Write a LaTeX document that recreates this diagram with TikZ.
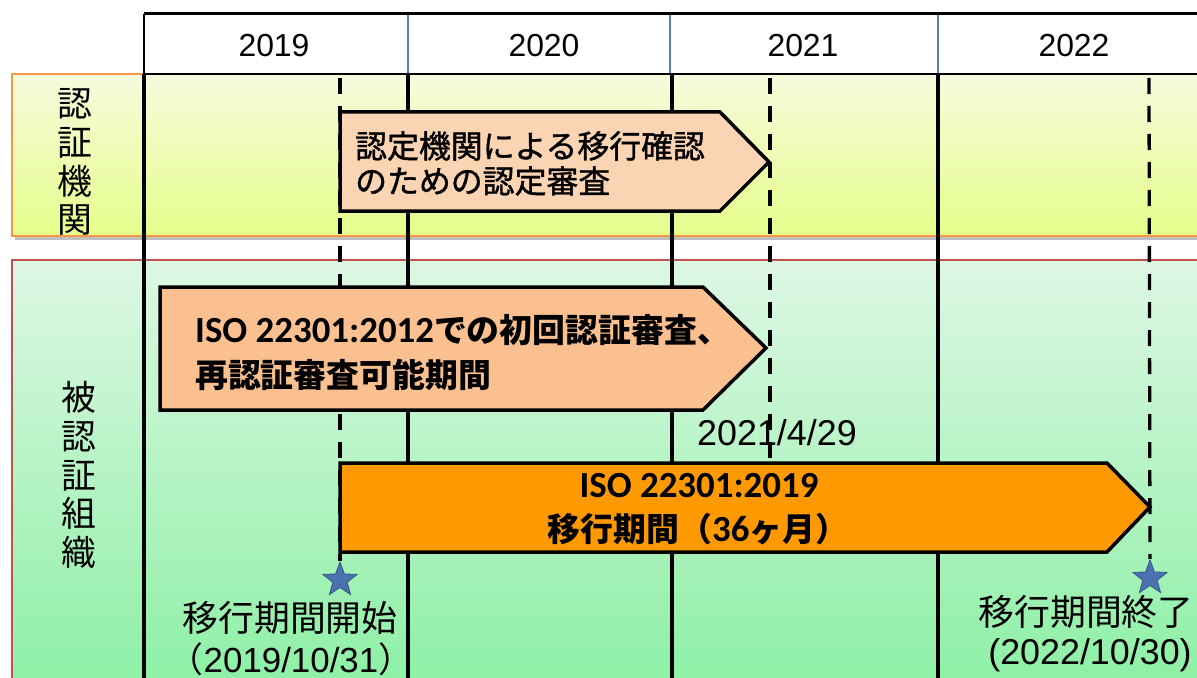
\documentclass[tikz,border=0pt]{standalone}
\usepackage{fontspec}
\setmainfont{Liberation Sans}
\newfontfamily\cjk{Noto Sans CJK JP}
\newfontfamily\cjkm[FakeBold=1.2]{Noto Sans CJK JP}
\newfontfamily\calib{Carlito}
\usetikzlibrary{shapes.geometric}
\definecolor{ytop}{HTML}{F5FBDD}
\definecolor{ybot}{HTML}{E6FD8A}
\definecolor{gtop}{HTML}{DEF7E4}
\definecolor{gbot}{HTML}{8EF0A6}
\definecolor{yborder}{HTML}{F79646}
\definecolor{gborder}{HTML}{C0504D}
\definecolor{hblue}{HTML}{4F81BD}
\definecolor{peachA}{HTML}{FBD4B4}
\definecolor{peachB}{HTML}{FAC090}
\definecolor{orangeC}{HTML}{FF9900}
\definecolor{starblue}{HTML}{4A72B0}
\begin{document}
\begin{tikzpicture}[x=1bp,y=-1bp,
  vline/.style={line width=3.5bp, black},
  guide/.style={line width=3.3bp, black, dash pattern=on 16bp off 12bp},
  boxshape/.style={draw=black, line width=3.5bp, line join=miter},
  txt/.style={inner sep=0, anchor=base west},
  ctxt/.style={inner sep=0, anchor=base},
  yearfont/.style={font=\fontsize{32}{36}\selectfont},
  boxA/.style={font=\cjkm\fontsize{32}{36}\selectfont},
  boxB/.style={font=\cjk\bfseries\fontsize{33}{38}\selectfont},
  lbl/.style={font=\cjk\fontsize{36}{40}\selectfont},
  datefont/.style={font=\fontsize{35}{40}\selectfont},
  vlabel/.style={inner sep=0, align=center, font=\cjk\fontsize{35}{39}\selectfont},
  marker/.style={star, star points=5, star point ratio=2.4, fill=starblue, draw=starblue!75!black, line width=0.8bp, minimum size=36bp, inner sep=0}
]
\useasboundingbox (0,0) rectangle (1197,678);
\fill[white] (0,0) rectangle (1197,678);

% bands
\fill[black!25] (15,78) rectangle (1200,240);
\shade[top color=ytop, bottom color=ybot] (12,74) rectangle (1200,236);
\draw[yborder, line width=1.5bp] (1200,74) -- (12,74) -- (12,236) -- (1200,236);
\shade[top color=gtop, bottom color=gbot] (12,260) rectangle (1200,680);
\draw[gborder, line width=1.5bp] (1200,260) -- (12,260) -- (12,680);

% header
\fill[white] (144,14) rectangle (1200,74);
\draw[hblue, line width=1.2bp] (408,14) -- (408,74) (670,14) -- (670,74) (938,14) -- (938,74);
\draw[black, line width=3bp] (144,14) -- (1200,14);
\draw[black, line width=2bp] (144,74) -- (1200,74);
\draw[black, line width=2bp] (144,14) -- (144,74);

\node[ctxt, yearfont] (y2019) at (274,57) {2019};
\node[ctxt, yearfont] (y2020) at (544,57) {2020};
\node[ctxt, yearfont] (y2021) at (803,57) {2021};
\node[ctxt, yearfont] (y2022) at (1074,57) {2022};

% vertical year lines
\coordinate (v1t) at (144,74); \coordinate (v1b) at (144,680);
\coordinate (v2t) at (408,74); \coordinate (v2b) at (408,680);
\coordinate (v3t) at (672,74); \coordinate (v3b) at (672,680);
\coordinate (v4t) at (938,74); \coordinate (v4b) at (938,680);
\draw[vline] (v1t) -- (v1b);
\draw[vline] (v2t) -- (v2b);
\draw[vline] (v3t) -- (v3b);
\draw[vline] (v4t) -- (v4b);

% markers
\node[marker] (s1) at (340,580) {};
\node[marker] (s2) at (1150,578) {};

% dashed guide lines
\coordinate (d1t) at (340,78);
\coordinate (d2t) at (770,78); \coordinate (d2b) at (770,458);
\coordinate (d3t) at (1149,78);
\draw[guide] (d1t) -- (s1.north);
\draw[guide] (d2t) -- (d2b);
\draw[guide] (d3t) -- (s2.north);

% boxes
\filldraw[boxshape, fill=peachA] (340,112) -- (720,112) -- (769,162) -- (720,211) -- (340,211) -- cycle;
\filldraw[boxshape, fill=peachB] (160,287) -- (703,287) -- (766,348) -- (703,410) -- (160,410) -- cycle;
\filldraw[boxshape, fill=orangeC] (340,463) -- (1107,463) -- (1150,507) -- (1107,552) -- (340,552) -- cycle;

% box texts
\node[txt, boxA] (a1) at (355,158) {認定機関による移行確認};
\node[txt, boxA] (a2) at (355,193) {のための認定審査};
\node[txt, boxB] (b1) at (195,342) {{\calib\bfseries\fontsize{37}{40}\selectfont ISO 22301:2012}での初回認証審査、};
\node[txt, boxB] (b2) at (195,387) {再認証審査可能期間};
\node[ctxt, font=\calib\bfseries\fontsize{37}{40}\selectfont] (c1) at (699,497) {ISO 22301:2019};
\node[ctxt, boxB] (c2) at (698,541) {移行期間（{\calib\bfseries\fontsize{37}{40}\selectfont 36}ヶ月）};

% date labels
\node[ctxt, font=\fontsize{36}{40}\selectfont] (d429) at (777,445) {2021/4/29};
\node[ctxt, lbl] (st1) at (290,631) {移行期間開始};
\node[ctxt, datefont] (st2) at (291,672) {{\cjk （}2019/10/31{\cjk ）}};
\node[ctxt, lbl] (en1) at (1086,625) {移行期間終了};
\node[ctxt, font=\fontsize{36}{40}\selectfont] (en2) at (1090,664) {(2022/10/30)};

% vertical labels
\node[vlabel] (lab1) at (75,162) {認\\証\\機\\関};
\node[vlabel] (lab2) at (79,475) {被\\認\\証\\組\\織};
\end{tikzpicture}
\end{document}
